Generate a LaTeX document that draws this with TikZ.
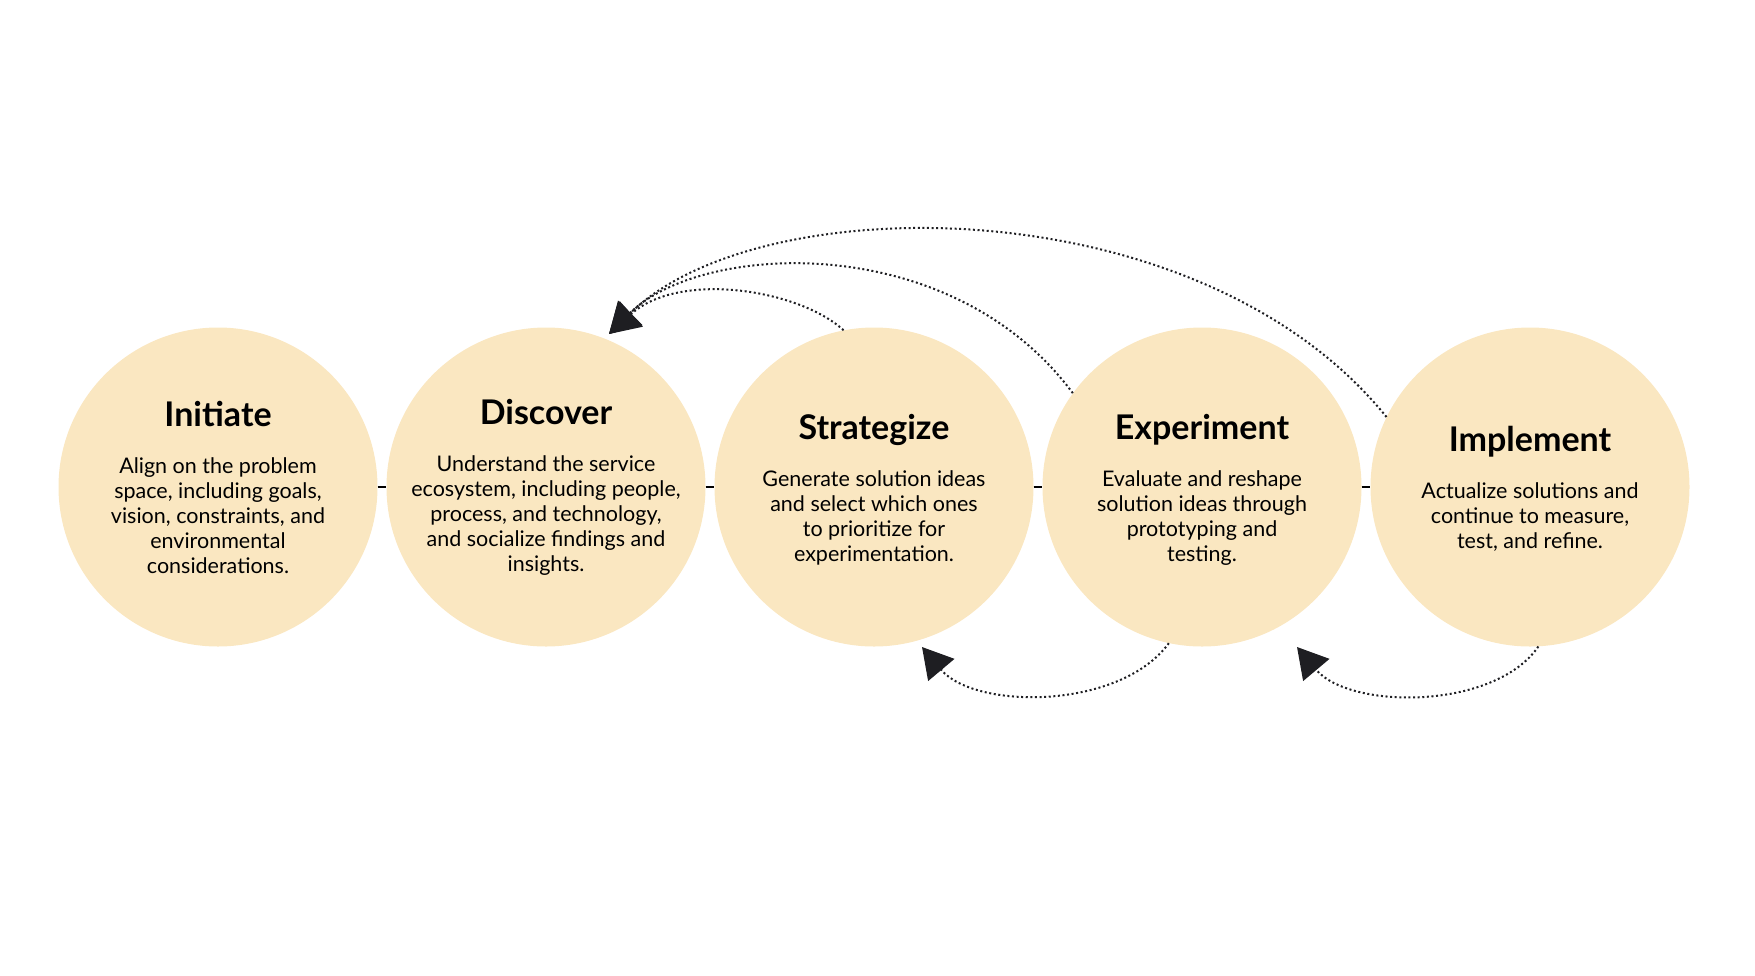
\documentclass[tikz,border=0pt]{standalone}
\usepackage{fontspec}
\setmainfont{Lato}
\usetikzlibrary{arrows.meta}
\definecolor{stagefill}{HTML}{FAE7C1}
\definecolor{ink}{HTML}{1E1E22}
\newcommand{\ttl}[1]{{\fontsize{34}{38}\selectfont\bfseries #1}}
\begin{document}
\begin{tikzpicture}[x=1pt,y=-1pt,
  stage/.style={circle,fill=stagefill,minimum size=319pt,inner sep=0pt},
  txt/.style={align=center,font=\fontsize{21.5}{25}\selectfont,text=black},
  spine/.style={draw=black,line width=2.5pt},
  loopback/.style={draw=ink,line width=2pt,dash pattern=on 2pt off 2.6pt,
    -{Triangle[length=30pt,width=34pt]}}]
\useasboundingbox (0,0) rectangle (1755,975);
\node[stage] (ini) at (218,487) {};
\node[stage] (dis) at (546,487) {};
\node[stage] (str) at (874,487) {};
\node[stage] (exp) at (1202,487) {};
\node[stage] (imp) at (1530,487) {};
\draw[spine] (ini) -- (dis);
\draw[spine] (dis) -- (str);
\draw[spine] (str) -- (exp);
\draw[spine] (exp) -- (imp);
\node[txt] (iniT) at (ini) {\ttl{Initiate}\\[22pt]Align on the problem\\space, including goals,\\vision, constraints, and\\environmental\\considerations.};
\node[txt] (disT) at (dis) {\ttl{Discover}\\[22pt]Understand the service\\ecosystem, including people,\\process, and technology,\\and socialize findings and\\insights.};
\node[txt,yshift=-3pt] (strT) at (str) {\ttl{Strategize}\\[22pt]Generate solution ideas\\and select which ones\\to prioritize for\\experimentation.};
\node[txt,yshift=-3pt] (expT) at (exp) {\ttl{Experiment}\\[22pt]Evaluate and reshape\\solution ideas through\\prototyping and\\testing.};
\node[txt,yshift=-2pt] (impT) at (imp) {\ttl{Implement}\\[22pt]Actualize solutions and\\continue to measure,\\test, and refine.};
\coordinate (tipTop) at (609,334);
\coordinate (tipA) at (922,647);
\coordinate (tipB) at (1297,647);
\draw[loopback] (str.101) .. controls (800,290) and (680,270) .. (tipTop);
\draw[loopback] (exp.144) .. controls (950,228) and (700,243) .. (tipTop);
\draw[loopback] (imp.154) .. controls (1200,186) and (760,186) .. (tipTop);
\draw[loopback] (exp.258) .. controls (1120,710) and (975,710) .. (tipA);
\draw[loopback] (imp.273) .. controls (1495,710) and (1350,710) .. (tipB);
\end{tikzpicture}
\end{document}
